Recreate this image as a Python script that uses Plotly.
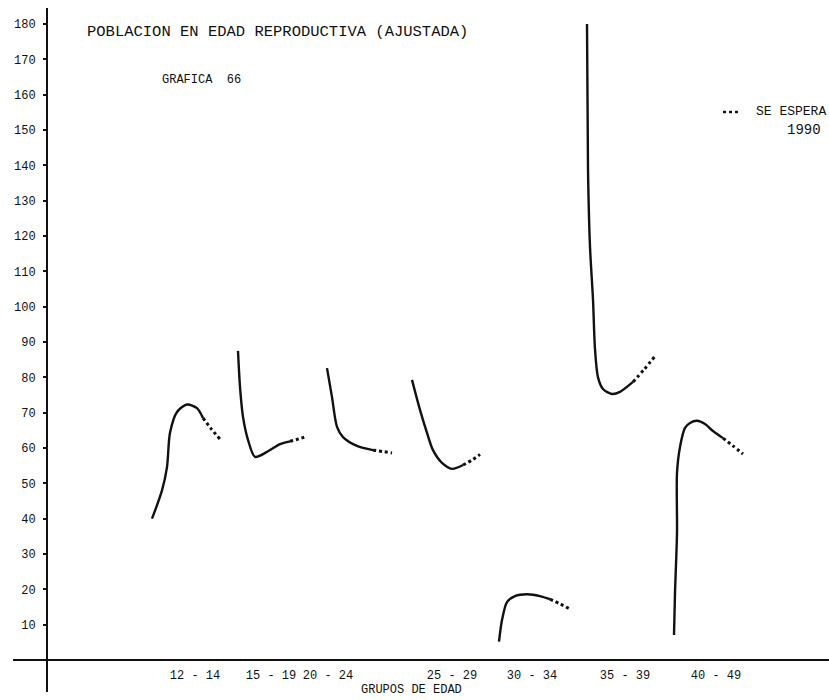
import plotly.graph_objects as go

# ---- data (x: position along the age axis, y: value) ----
groups = ["12 - 14", "15 - 19", "20 - 24", "25 - 29", "30 - 34", "35 - 39", "40 - 49"]
group_pos = [148, 224, 281, 405, 485, 578, 669]

y_ticks = [10, 20, 30, 40, 50, 60, 70, 80, 90, 100, 110, 120, 130, 140, 150, 160, 170, 180]

# solid (observed) portions
g1_x = [105, 115, 120, 123, 130, 140, 150, 156]
g1_y = [40, 48, 54.6, 64.3, 70.2, 72.3, 71.3, 68.5]
g2_x = [191, 193, 196, 201, 208, 220, 233, 243]
g2_y = [87.5, 77.3, 68.8, 62.3, 57.5, 58.9, 61.1, 61.9]
g3_x = [280, 285, 290, 296, 310, 326]
g3_y = [82.6, 74.4, 66, 63.1, 60.6, 59.4]
g4_x = [365, 373, 380, 386, 395, 405, 416]
g4_y = [79.3, 70.8, 64.3, 59.4, 55.8, 54.1, 55.2]
g5_x = [452, 455, 460, 468, 480, 493, 503]
g5_y = [5.2, 11.3, 16.4, 18.1, 18.6, 18.1, 17.2]
g6_x = [540, 541, 543, 546, 548, 551, 556, 565, 573, 586]
g6_y = [180, 139, 117, 102, 88, 80, 76.7, 75.3, 75.9, 78.7]
g7_x = [627, 628, 630, 630, 633, 638, 643, 650, 658, 666, 676]
g7_y = [7.1, 19, 36, 52.9, 60.3, 65.7, 67.1, 67.7, 66.8, 64.8, 62.8]

# dotted (expected 1990) portions
d1_x = [156, 164, 173]
d1_y = [68.5, 65.5, 62.5]
d2_x = [243, 252, 260]
d2_y = [61.9, 62.6, 63.3]
d3_x = [326, 336, 345]
d3_y = [59.4, 59.0, 58.6]
d4_x = [416, 425, 433]
d4_y = [55.2, 56.6, 58.2]
d5_x = [503, 513, 523]
d5_y = [17.2, 15.9, 14.4]
d6_x = [586, 597, 608]
d6_y = [78.7, 82.2, 86.0]
d7_x = [676, 686, 696]
d7_y = [62.8, 60.6, 58.3]

solid = [(g1_x, g1_y), (g2_x, g2_y), (g3_x, g3_y), (g4_x, g4_y),
         (g5_x, g5_y), (g6_x, g6_y), (g7_x, g7_y)]
dotted = [(d1_x, d1_y), (d2_x, d2_y), (d3_x, d3_y), (d4_x, d4_y),
          (d5_x, d5_y), (d6_x, d6_y), (d7_x, d7_y)]

W, H = 829, 700
L, B = 47, 40
PW, PH = W - L, H - B


def px(x):
    return (x - L) / PW


def py(y):
    return (PH - y) / PH


FONT = "Liberation Mono"
INK = "#111111"

fig = go.Figure()
for xs, ys in solid:
    fig.add_trace(go.Scatter(x=xs, y=ys, mode="lines",
                             line=dict(color=INK, width=2.4, shape="spline", smoothing=0.8),
                             showlegend=False, hoverinfo="skip"))
for xs, ys in dotted:
    fig.add_trace(go.Scatter(x=xs, y=ys, mode="lines",
                             line=dict(color=INK, width=3, dash="dot", shape="spline"),
                             showlegend=False, hoverinfo="skip"))

fig.update_layout(
    width=W, height=H,
    margin=dict(l=L, r=0, t=0, b=B),
    paper_bgcolor="white", plot_bgcolor="white",
    showlegend=False,
    xaxis=dict(range=[0, PW], showgrid=False, zeroline=False, showline=False,
               tickmode="array", tickvals=group_pos, ticktext=groups,
               ticks="", ticklabelstandoff=6,
               tickfont=dict(family=FONT, size=12, color=INK)),
    yaxis=dict(range=[0, PH / 3.533], showgrid=False, zeroline=False, showline=False,
               tickmode="array", tickvals=y_ticks, ticktext=[str(v) for v in y_ticks],
               ticks="outside", ticklen=3, tickwidth=2, tickcolor=INK,
               ticklabelstandoff=5,
               tickfont=dict(family=FONT, size=12, color=INK)),
)

# axis lines (extend beyond plot area like the original drawing)
fig.add_shape(type="line", xref="paper", yref="paper",
              x0=0, x1=0, y0=py(692), y1=py(8), line=dict(color=INK, width=2))
fig.add_shape(type="line", xref="paper", yref="paper",
              x0=px(13), x1=1, y0=0, y1=0, line=dict(color=INK, width=2))

# legend sample (dotted)
fig.add_shape(type="line", xref="paper", yref="paper",
              x0=px(723), x1=px(740), y0=py(112), y1=py(112),
              line=dict(color=INK, width=2.5, dash="dot"))


def note(text, x, y, size, anchor="left"):
    fig.add_annotation(text=text, xref="paper", yref="paper", x=px(x), y=py(y),
                       xanchor=anchor, yanchor="middle", showarrow=False,
                       font=dict(family=FONT, size=size, color=INK))


note("POBLACION EN EDAD REPRODUCTIVA (AJUSTADA)", 85, 32, 15.5)
note("GRAFICA  66", 160, 80, 12)
note("SE ESPERA", 754, 112, 13)
note("1990", 785, 130, 14)
note("GRUPOS DE EDAD", 411, 690, 12, anchor="center")

fig.write_html(
    "out.html",
    config={"displayModeBar": False},
    post_script="document.body.style.margin='0';document.body.style.overflow='hidden';",
)
